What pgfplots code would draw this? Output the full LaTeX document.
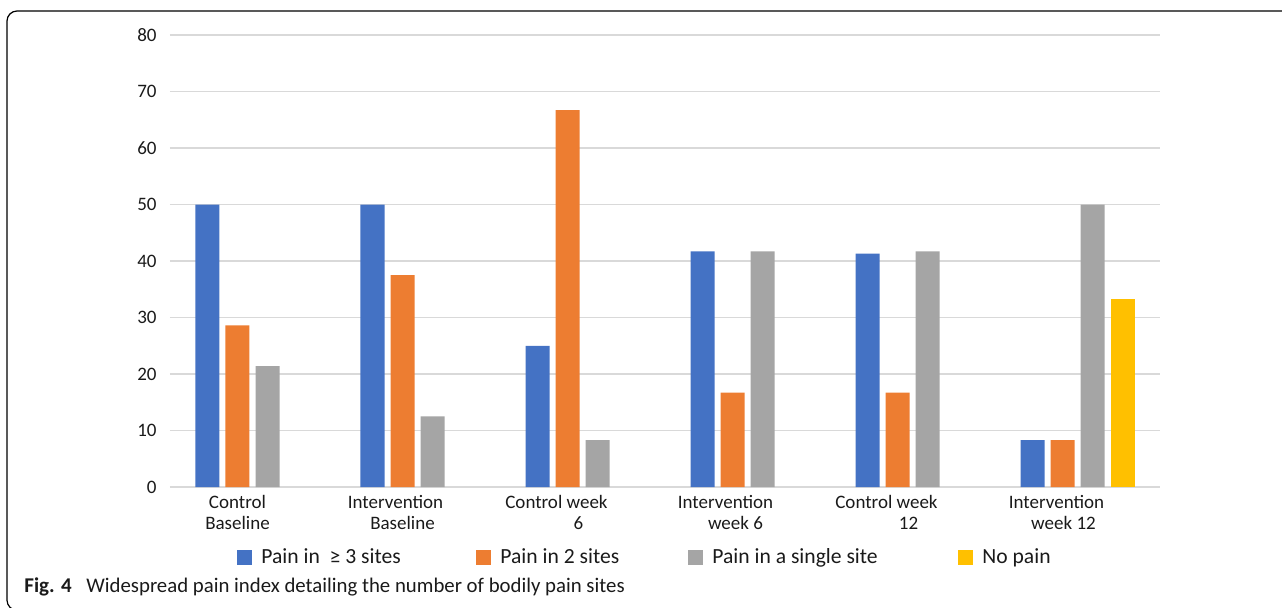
\documentclass[border=0pt]{standalone}
\usepackage{pgfplots}
\pgfplotsset{compat=1.18}
\usepackage{fontspec}
\setmainfont{Carlito}

\definecolor{sBlue}{HTML}{4472C4}
\definecolor{sOrange}{HTML}{ED7D31}
\definecolor{sGray}{HTML}{A5A5A5}
\definecolor{sYellow}{HTML}{FFC000}
\definecolor{gridgray}{HTML}{D9D9D9}
\definecolor{txt}{HTML}{1A1A1A}

% percentage of participants per pain-site category
\pgfplotstableread{
x  three two single
0  50    28.6 21.4
1  50    37.5 12.5
2  25    66.7 8.3
3  41.7  16.7 41.7
4  41.3  16.7 41.7
5  8.3   8.3  50
}\painsites

\newcommand{\sq}[1]{\rule{#1}{0pt}}

\begin{document}
\begin{tikzpicture}
\begin{axis}[
  at={(85pt,60pt)}, anchor=south west,
  scale only axis, width=495pt, height=226pt,
  xmin=-0.5, xmax=5.5, ymin=0, ymax=80,
  axis line style={draw=none},
  ytick={0,10,...,80},
  xtick={0,...,5},
  major tick length=0pt,
  ymajorgrids, grid style={gridgray, line width=0.8pt},
  ybar, bar width=12pt,
  /pgf/number format/assume math mode=true,
  tick label style={font=\fontsize{9.5}{10.5}\selectfont, text=txt},
  yticklabel style={inner sep=0pt, xshift=-6.5pt},
  xticklabel style={align=center, inner sep=0pt, yshift=-4pt, xshift=-7.5pt},
  xticklabels={
    {Control\\Baseline},
    {Intervention\sq{7pt}\\Baseline},
    {Control week\sq{11pt}\\\sq{11pt}6},
    {Intervention\sq{7pt}\\\sq{3pt}week 6},
    {Control week\sq{11pt}\\\sq{11pt}12},
    {Intervention\sq{6pt}\\\sq{1pt}week 12}},
  legend columns=4,
  legend style={at={(axis description cs:0.0677,-0.156)}, anchor=west,
    draw=none, fill=none, inner sep=0pt, column sep=0pt,
    nodes={inner sep=0pt, font=\fontsize{10.8}{12}\selectfont, text=txt}},
  legend image code/.code={
    \fill[#1] (0pt,-3.75pt) rectangle (7.5pt,3.75pt);
    \path (12pt,0pt);},
]
\addplot[fill=sBlue, draw=none, bar shift=-22.5pt] table[x=x, y=three] {\painsites};
\addlegendentry{\makebox[107.5pt][l]{Pain in \ ≥ 3 sites}}
\addplot[fill=sOrange, draw=none, bar shift=-7.5pt] table[x=x, y=two] {\painsites};
\addlegendentry{\makebox[94pt][l]{Pain in 2 sites}}
\addplot[fill=sGray, draw=none, bar shift=7.5pt] table[x=x, y=single] {\painsites};
\addlegendentry{\makebox[123pt][l]{Pain in a single site}}
\addplot[fill=sYellow, draw=none, bar shift=22.5pt] coordinates {(5,33.3)};
\addlegendentry{No pain}
\end{axis}

% figure caption
\node[anchor=base west, inner sep=0pt, text=txt, font=\fontsize{10.5}{12}\selectfont\bfseries] at (12pt,7.5pt) {Fig. 4};
\node[anchor=base west, inner sep=0pt, text=txt, font=\fontsize{10.4}{12}\selectfont] at (43pt,7.5pt) {Widespread pain index detailing the number of bodily pain sites};

% panel frame
\draw[black, line width=0.6pt, rounded corners=5pt] (700pt,298pt) -- (3.5pt,298pt) -- (3.5pt,-1.6pt) -- (700pt,-1.6pt);

\pgfresetboundingbox
\useasboundingbox (0pt,0pt) rectangle (641pt,303.5pt);
\end{tikzpicture}
\end{document}
